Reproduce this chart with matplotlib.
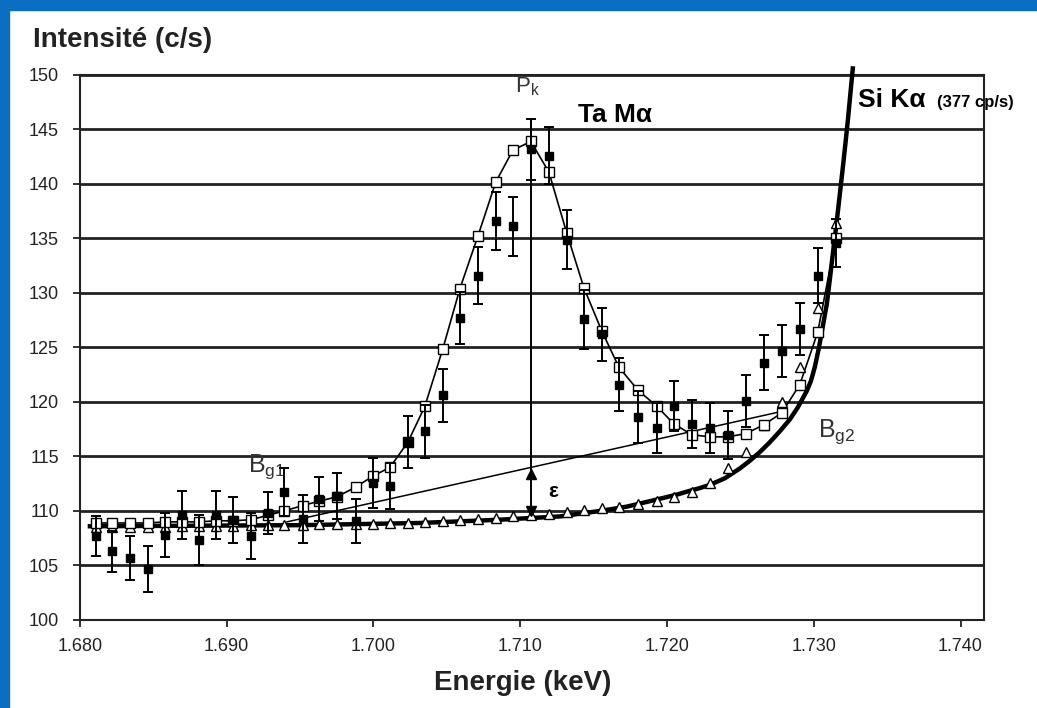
import matplotlib
matplotlib.use("Agg")
import matplotlib.pyplot as plt
from matplotlib.patches import Rectangle

# Energies of the measured channels (keV)
energy = [1.68109, 1.68218, 1.68341, 1.68463, 1.68579, 1.68695, 1.68811, 1.68926,
          1.69042, 1.69165, 1.69281, 1.69390, 1.69519, 1.69628, 1.69751, 1.69880,
          1.69996, 1.70112, 1.70234, 1.70350, 1.70473, 1.70589, 1.70711, 1.70834,
          1.70950, 1.71072, 1.71195, 1.71317, 1.71433, 1.71556, 1.71672, 1.71801,
          1.71931, 1.72046, 1.72169, 1.72292, 1.72414, 1.72537, 1.72659, 1.72782,
          1.72905, 1.73027, 1.73150]

# Measured intensities (filled squares) and their error bars
measured = [107.7, 106.3, 105.7, 104.7, 107.8, 109.6, 107.3, 109.6, 109.2, 107.7,
            109.8, 111.7, 109.3, 111.1, 111.4, 109.1, 112.6, 112.3, 116.3, 117.3,
            120.6, 127.7, 131.6, 136.6, 136.1, 143.2, 142.6, 134.9, 127.6, 126.2,
            121.6, 118.6, 117.6, 119.6, 118.0, 117.6, 117.0, 120.1, 123.6, 124.7,
            126.7, 131.6, 134.6]
measured_err = [1.8, 1.9, 2.0, 2.1, 2.0, 2.2, 2.3, 2.2, 2.1, 2.1,
                1.9, 2.2, 2.2, 2.0, 2.1, 2.0, 2.3, 2.1, 2.4, 2.4,
                2.4, 2.4, 2.6, 2.7, 2.7, 2.8, 2.6, 2.7, 2.7, 2.4,
                2.4, 2.4, 2.3, 2.3, 2.2, 2.3, 2.2, 2.4, 2.5, 2.4,
                2.4, 2.5, 2.2]

# Fitted profile (open squares)
fit = [108.9, 108.9, 108.9, 108.9, 109.0, 109.0, 109.0, 109.1, 109.1, 109.2,
       109.6, 110.0, 110.5, 110.9, 111.3, 112.2, 113.2, 114.0, 116.3, 119.6,
       124.9, 130.4, 135.2, 140.2, 143.1, 143.9, 141.1, 135.5, 130.5, 126.5,
       123.2, 121.1, 119.6, 118.0, 117.0, 116.8, 116.8, 117.1, 117.9, 119.0,
       121.6, 126.4, 135.0]

# Background (open triangles)
background = [108.5, 108.5, 108.5, 108.5, 108.5, 108.6, 108.6, 108.6, 108.6, 108.7,
              108.7, 108.7, 108.7, 108.8, 108.8, 108.8, 108.8, 108.9, 108.9, 109.0,
              109.1, 109.2, 109.3, 109.4, 109.5, 109.6, 109.7, 109.9, 110.1, 110.3,
              110.4, 110.6, 110.9, 111.3, 111.7, 112.6, 113.9, 115.4, 117.9, 120.0,
              123.2, 128.6, 136.4]

# Si Ka tail (thick curve)
si_energy = [1.68068, 1.69499, 1.70316, 1.70861, 1.71270, 1.71542, 1.71726, 1.71883,
             1.72067, 1.72155, 1.72223, 1.72292, 1.72394, 1.72496, 1.72564, 1.72632,
             1.72700, 1.72768, 1.72837, 1.72891, 1.72952, 1.72980, 1.73007, 1.73034,
             1.73061, 1.73089, 1.73109, 1.73130, 1.73157, 1.73177, 1.73198, 1.73218,
             1.73232, 1.73266]
si_counts = [108.6, 108.7, 108.9, 109.2, 109.5, 110.0, 110.4, 110.9,
             111.5, 111.85, 112.1, 112.4, 113.0, 113.9, 114.6, 115.4,
             116.3, 117.3, 118.4, 119.5, 121.0, 121.9, 123.2, 124.9,
             126.9, 129.0, 131.2, 133.6, 136.6, 139.0, 141.5, 144.0,
             145.8, 150.6]

# Bg1 -> Bg2 linear background
bg_energy = [1.6941, 1.7277]
bg_counts = [109.0, 119.1]

# Pk marker and epsilon
pk_energy = 1.7107
pk_top = 146.0
pk_base = 109.6
eps_top = 113.9

fig = plt.figure(figsize=(10.37, 7.08), dpi=100)
fig.patches.append(Rectangle((0, 0), 9 / 1037, 1, transform=fig.transFigure,
                             color="#0b6fc1", zorder=0))
fig.patches.append(Rectangle((0, 1 - 10 / 708), 1, 10 / 708, transform=fig.transFigure,
                             color="#0b6fc1", zorder=0))

ax = fig.add_axes([0.0771, 0.1243, 0.8718, 0.7698])
font = "Liberation Sans"

# Horizontal grid
for v in range(105, 151, 5):
    ax.axhline(v, color="#222222", lw=2.0, zorder=1)

ax.plot(si_energy, si_counts, color="black", lw=3.2, zorder=3, clip_on=False,
        solid_joinstyle="round")
ax.plot(bg_energy, bg_counts, color="black", lw=1.1, zorder=3)
ax.plot(energy, fit, color="black", lw=1.2, zorder=3)
ax.plot([pk_energy, pk_energy], [pk_top, pk_base], color="black", lw=1.4, zorder=3)

ax.plot(energy, background, linestyle="none", marker="^", ms=7, mfc="white",
        mec="black", mew=1.0, zorder=4)
ax.plot(energy, fit, linestyle="none", marker="s", ms=7, mfc="white",
        mec="black", mew=1.0, zorder=4)
ax.errorbar(energy, measured, yerr=measured_err, fmt="s", ms=6, color="black",
            ecolor="black", elinewidth=1.4, capsize=3.5, capthick=1.4, zorder=5)

# epsilon arrow heads
ax.plot([pk_energy], [eps_top - 0.5], marker="^", ms=7, color="black", zorder=6)
ax.plot([pk_energy], [pk_base + 0.4], marker="v", ms=7, color="black", zorder=6)

ax.set_xlim(1.680, 1.7416)
ax.set_ylim(100, 150)
ax.set_xticks([1.680, 1.690, 1.700, 1.710, 1.720, 1.730, 1.740])
ax.set_xticklabels(["1.680", "1.690", "1.700", "1.710", "1.720", "1.730", "1.740"])
ax.set_yticks(range(100, 151, 5))
ax.tick_params(direction="out", length=5, width=1.3, labelsize=13, colors="#222222")
for lab in ax.get_xticklabels() + ax.get_yticklabels():
    lab.set_family(font)
ax.tick_params(axis="x", pad=8)
ax.tick_params(axis="y", pad=10)
for s in ax.spines.values():
    s.set_linewidth(1.5)
    s.set_color("#222222")

ax.text(1.71052, 148.9, r"P$_\mathregular{k}$", fontsize=16, family=font,
        color="#333333", ha="center", va="center")
ax.text(1.71392, 146.3, "Ta M\u03b1", fontsize=19, family=font, weight="bold",
        ha="left", va="center")
ax.text(1.7330, 147.7, "Si K\u03b1", fontsize=19, family=font, weight="bold",
        ha="left", va="center")
ax.text(1.7384, 147.5, "(377 cp/s)", fontsize=12, family=font, weight="bold",
        ha="left", va="center")
ax.text(1.69144, 114.1, r"B$_\mathregular{g1}$", fontsize=18, family=font,
        color="#333333", ha="left", va="center")
ax.text(1.73027, 117.25, r"B$_\mathregular{g2}$", fontsize=18, family=font,
        color="#333333", ha="left", va="center")
ax.text(1.71222, 111.75, "\u03b5", fontsize=15, family=font, weight="bold",
        ha="center", va="center")

fig.text(0.0318, 0.9435, "Intensité (c/s)", fontsize=20, family=font,
         weight="bold", color="#222222", ha="left", va="center")
fig.text(0.5043, 0.0353, "Energie (keV)", fontsize=20, family=font,
         weight="bold", color="#222222", ha="center", va="center")

fig.savefig("out.png", dpi=100)
